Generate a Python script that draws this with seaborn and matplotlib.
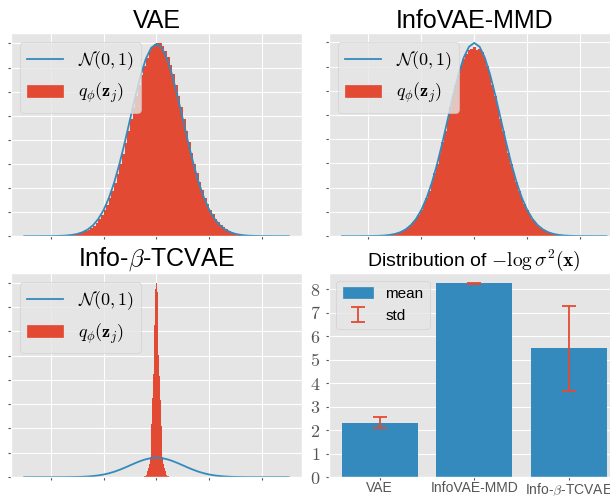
import numpy as np
import pandas as pd
import matplotlib
matplotlib.use("Agg")
import matplotlib.pyplot as plt
import seaborn as sns
from matplotlib.lines import Line2D
from matplotlib.patches import Patch
from matplotlib.ticker import MultipleLocator

# --- datos ---
# curva N(0,1), x de -5 a 5 cada 0.2
curva_y = [0.0000, 0.0000, 0.0000, 0.0000, 0.0001, 0.0001, 0.0003, 0.0006, 0.0012, 0.0024,
           0.0044, 0.0079, 0.0136, 0.0224, 0.0355, 0.0540, 0.0790, 0.1109, 0.1497, 0.1942,
           0.2420, 0.2897, 0.3332, 0.3683, 0.3910, 0.3989, 0.3910, 0.3683, 0.3332, 0.2897,
           0.2420, 0.1942, 0.1497, 0.1109, 0.0790, 0.0540, 0.0355, 0.0224, 0.0136, 0.0079,
           0.0044, 0.0024, 0.0012, 0.0006, 0.0003, 0.0001, 0.0001, 0.0000, 0.0000, 0.0000,
           0.0000]

# histograma VAE (densidad), bins de 0.1 entre -4.5 y 4.5
hist_vae = [0.0000, 0.0000, 0.0000, 0.0001, 0.0001, 0.0001, 0.0002, 0.0003, 0.0004, 0.0006,
            0.0009, 0.0012, 0.0017, 0.0024, 0.0033, 0.0044, 0.0059, 0.0078, 0.0102, 0.0133,
            0.0172, 0.0219, 0.0278, 0.0349, 0.0434, 0.0533, 0.0650, 0.0783, 0.0934, 0.1102,
            0.1290, 0.1493, 0.1712, 0.1941, 0.2180, 0.2424, 0.2667, 0.2906, 0.3135, 0.3346,
            0.3538, 0.3702, 0.3834, 0.3931, 0.3992,
            0.4012,
            0.4003, 0.3948, 0.3851, 0.3719, 0.3551, 0.3356, 0.3142, 0.2912, 0.2674, 0.2430,
            0.2187, 0.1950, 0.1722, 0.1506, 0.1305, 0.1120, 0.0952, 0.0801, 0.0667, 0.0551,
            0.0450, 0.0364, 0.0292, 0.0231, 0.0181, 0.0141, 0.0109, 0.0083, 0.0063, 0.0047,
            0.0035, 0.0026, 0.0019, 0.0013, 0.0009, 0.0007, 0.0005, 0.0003, 0.0002, 0.0001,
            0.0001, 0.0001, 0.0000, 0.0000]

# histograma InfoVAE-MMD, bins de 0.1 entre -4.55 y 4.55
hist_mmd = [0.0000, 0.0000, 0.0000, 0.0001, 0.0001, 0.0001, 0.0002, 0.0003, 0.0004, 0.0006,
            0.0009, 0.0012, 0.0017, 0.0024, 0.0033, 0.0045, 0.0060, 0.0080, 0.0105, 0.0137,
            0.0176, 0.0225, 0.0285, 0.0356, 0.0441, 0.0541, 0.0657, 0.0790, 0.0941, 0.1110,
            0.1296, 0.1497, 0.1713, 0.1941, 0.2177, 0.2418, 0.2658, 0.2893, 0.3118, 0.3321,
            0.3502, 0.3652, 0.3760, 0.3842, 0.3861,
            0.3905,
            0.3852, 0.3866, 0.3795, 0.3671, 0.3515, 0.3330, 0.3122, 0.2897, 0.2662, 0.2421,
            0.2180, 0.1943, 0.1715, 0.1498, 0.1296, 0.1110, 0.0941, 0.0790, 0.0656, 0.0540,
            0.0440, 0.0355, 0.0283, 0.0224, 0.0175, 0.0136, 0.0104, 0.0079, 0.0060, 0.0044,
            0.0033, 0.0024, 0.0017, 0.0012, 0.0009, 0.0006, 0.0004, 0.0003, 0.0002, 0.0001,
            0.0001, 0.0001, 0.0000, 0.0000, 0.0000]

# histograma Info-beta-TCVAE, bins de 0.03 entre -0.615 y 0.615
hist_tc = [0.0005, 0.001, 0.002, 0.004, 0.008, 0.014, 0.025, 0.045, 0.075, 0.12,
           0.19, 0.28, 0.42, 0.66, 1.10, 1.62, 2.12, 2.58, 3.12, 3.86,
           3.99,
           3.80, 3.08, 2.52, 2.08, 1.58, 1.06, 0.64, 0.41, 0.27, 0.18,
           0.12, 0.072, 0.044, 0.025, 0.014, 0.008, 0.004, 0.002, 0.001, 0.0005]

# barras: media y desviacion de -log sigma^2(x)
modelos = ["VAE", "InfoVAE-MMD", r"Info-$\beta$-TCVAE"]
medias = [2.32, 8.24, 5.48]
desvios = [0.22, 0.02, 1.80]

rojo = "#E24A33"
azul = "#348ABD"

plt.style.use("ggplot")
plt.rcParams["font.family"] = ["Liberation Sans", "DejaVu Sans"]
plt.rcParams["mathtext.fontset"] = "cm"

fig = plt.figure(figsize=(6.1, 4.96), dpi=100)
pos = {
    "vae": [0.018, 0.524, 0.477, 0.409],
    "mmd": [0.539, 0.524, 0.477, 0.409],
    "tc": [0.018, 0.038, 0.477, 0.411],
    "bar": [0.539, 0.038, 0.477, 0.411],
}

curva_x = np.linspace(-5, 5, len(curva_y))


def panel_hist(rect, alturas, lo, hi, titulo, paso_y):
    ax = fig.add_axes(rect)
    bordes = np.linspace(lo, hi, len(alturas) + 1)
    datos = pd.DataFrame({"z": (bordes[:-1] + bordes[1:]) / 2, "h": alturas})
    sns.histplot(data=datos, x="z", weights="h", bins=bordes.tolist(), ax=ax,
                 color=rojo, alpha=1, linewidth=0, element="step", fill=True,
                 stat="count")
    sns.lineplot(x=curva_x, y=curva_y, ax=ax, color=azul, linewidth=1.3)
    ax.set_xlabel("")
    ax.set_ylabel("")
    ax.xaxis.set_major_locator(MultipleLocator(2))
    ax.yaxis.set_major_locator(MultipleLocator(paso_y))
    ax.tick_params(labelbottom=False, labelleft=False, length=2.5)
    ax.set_title(titulo, fontsize=18, pad=3.5)
    handles = [Line2D([], [], color=azul, linewidth=1.3), Patch(color=rojo)]
    ax.legend(handles, [r"$\mathcal{N}(0,1)$", r"$q_\phi(\mathbf{z}_j)$"],
              loc="upper left", fontsize=13)
    return ax


panel_hist(pos["vae"], hist_vae, -4.5, 4.5, "VAE", 0.05)
panel_hist(pos["mmd"], hist_mmd, -4.55, 4.55, "InfoVAE-MMD", 0.05)
panel_hist(pos["tc"], hist_tc, -0.615, 0.615, r"Info-$\beta$-TCVAE", 0.5)

# panel de barras
ax = fig.add_axes(pos["bar"])
sns.barplot(x=modelos, y=medias, ax=ax, color=azul, saturation=1, width=0.8)
err = ax.errorbar(x=np.arange(len(modelos)), y=medias, yerr=desvios, fmt="none",
                  ecolor=rojo, capsize=5, elinewidth=1.3, capthick=1.3)
ax.set_yticks(range(9))
ax.set_yticklabels([f"${i}$" for i in range(9)], fontsize=13)
ax.tick_params(axis="x", labelsize=10, length=2, pad=1)
ax.tick_params(axis="y", length=2.5)
ax.set_title(r"Distribution of $-\log\sigma^2(\mathbf{x})$", fontsize=14, pad=3)
ax.set_xlabel("")
ax.set_ylabel("")
ax.legend([Patch(color=azul), err], ["mean", "std"], loc="upper left", fontsize=11)

fig.savefig("out.png", dpi=100)
plt.close(fig)
